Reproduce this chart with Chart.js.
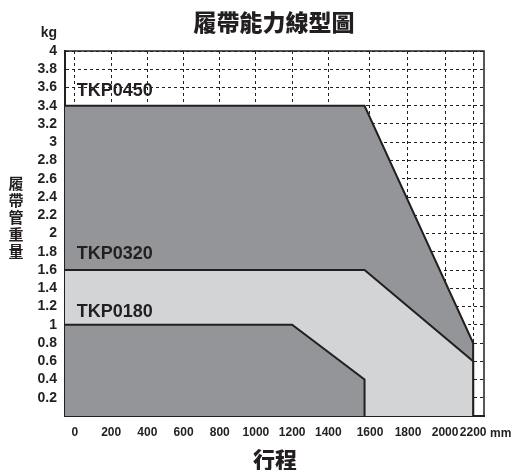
<!DOCTYPE html>
<html>
<head>
<meta charset="utf-8">
<script src="https://cdn.jsdelivr.net/npm/chart.js@4"></script>
<style>
  html, body { margin: 0; padding: 0; background: #fff; }
  #wrap { width: 519px; height: 470px; }
</style>
</head>
<body>
<div id="wrap"><canvas id="chart" width="519" height="470"></canvas></div>
<script>
// Data
const xMin = -55;
const xMax = 2260;
const tkp0450X = [xMin, 1600, 2200, 2200];
const tkp0450Y = [3.4, 3.4, 0.8, 0];
const tkp0320X = [xMin, 1600, 2200, 2200];
const tkp0320Y = [1.6, 1.6, 0.6, 0];
const tkp0180X = [xMin, 1200, 1600, 1600];
const tkp0180Y = [1.0, 1.0, 0.4, 0];

// grid positions as drawn (the right part of the grid is not evenly spaced)
const xGridValues = [0, 200, 400, 600, 800, 1000, 1200, 1400, 1630, 1840, 2045, 2200];
const xTickLabels = ['0', '200', '400', '600', '800', '1000', '1200', '1400', '1600', '1800', '2000', '2200'];

const seriesNames = ['TKP0180', 'TKP0320', 'TKP0450'];
const labelX = [10, 10, 10];
const labelY = [1.14, 1.78, 3.56];

const DARK = '#939598';
const LIGHT = '#d3d4d6';
const INK = '#231f20';
const FONT = '"Liberation Sans", Arial, sans-serif';
const CJK = '"Noto Sans CJK TC", "Noto Sans CJK SC", sans-serif';

function toPoints(xs, ys) {
    return xs.map((x, i) => ({ x: x, y: ys[i] }));
}

// Extra text and frame around the plot
const decorations = {
    id: 'decorations',
    afterDraw(chart) {
        const ctx = chart.ctx;
        const area = chart.chartArea;
        const xs = chart.scales.x;
        const ys = chart.scales.y;
        ctx.save();

        // top and right frame
        ctx.strokeStyle = INK;
        ctx.lineWidth = 1.5;
        ctx.beginPath();
        ctx.moveTo(area.left, area.top);
        ctx.lineTo(area.right, area.top);
        ctx.lineTo(area.right, area.bottom);
        ctx.stroke();

        // series labels
        ctx.fillStyle = INK;
        ctx.font = 'bold 18px ' + FONT;
        ctx.textAlign = 'left';
        ctx.textBaseline = 'middle';
        seriesNames.forEach((name, i) => {
            ctx.fillText(name, xs.getPixelForValue(labelX[i]), ys.getPixelForValue(labelY[i]));
        });

        // title
        ctx.font = '900 23px ' + CJK;
        ctx.textAlign = 'center';
        ctx.fillText('履帶能力線型圖', 274, 22);

        // x axis title
        ctx.font = '900 22px ' + CJK;
        ctx.fillText('行程', 275, 460);

        // units
        ctx.font = 'bold 14px ' + FONT;
        ctx.textAlign = 'right';
        ctx.fillText('kg', 57, 33);
        ctx.font = 'bold 12px ' + FONT;
        ctx.textAlign = 'left';
        ctx.fillText('mm', 490, 434);

        // y axis title, one character per line
        ctx.font = 'bold 15px ' + CJK;
        ctx.textAlign = 'center';
        Array.from('履帶管重量').forEach((ch, i) => {
            ctx.fillText(ch, 16, 183 + i * 17);
        });

        ctx.restore();
    }
};

new Chart(document.getElementById('chart'), {
    type: 'line',
    data: {
        datasets: [
            { label: seriesNames[0], data: toPoints(tkp0180X, tkp0180Y), backgroundColor: DARK },
            { label: seriesNames[1], data: toPoints(tkp0320X, tkp0320Y), backgroundColor: LIGHT },
            { label: seriesNames[2], data: toPoints(tkp0450X, tkp0450Y), backgroundColor: DARK }
        ].map(ds => Object.assign(ds, {
            fill: 'origin',
            borderColor: INK,
            borderWidth: 2,
            pointRadius: 0,
            tension: 0
        }))
    },
    options: {
        responsive: false,
        animation: false,
        layout: { padding: { left: 5, right: 35, top: 51, bottom: 0 } },
        plugins: {
            legend: { display: false },
            tooltip: { enabled: false }
        },
        scales: {
            x: {
                type: 'linear',
                min: xMin,
                max: xMax,
                z: 1,
                afterFit: axis => { axis.height = 54; },
                afterBuildTicks: axis => {
                    axis.ticks = xGridValues.map(v => ({ value: v }));
                },
                ticks: {
                    autoSkip: false,
                    maxRotation: 0,
                    padding: 9,
                    color: INK,
                    font: { family: FONT, size: 12, weight: 'bold' },
                    callback: (value, index) => xTickLabels[index]
                },
                grid: { color: INK, lineWidth: 1, drawTicks: false },
                border: { color: INK, width: 2, dash: [3, 3] }
            },
            y: {
                min: 0,
                max: 4,
                z: 1,
                afterFit: axis => { axis.width = 60; },
                ticks: {
                    autoSkip: false,
                    stepSize: 0.2,
                    padding: 8,
                    color: INK,
                    font: { family: FONT, size: 14, weight: 'bold' },
                    callback: value => value < 0.01 ? '' : String(+value.toFixed(1))
                },
                grid: { color: INK, lineWidth: 1, drawTicks: false },
                border: { color: INK, width: 2, dash: [3, 3] }
            }
        }
    },
    plugins: [decorations]
});
</script>
</body>
</html>
